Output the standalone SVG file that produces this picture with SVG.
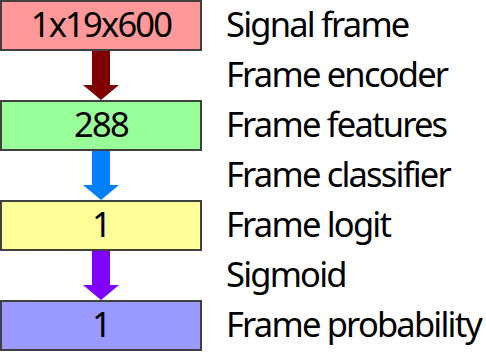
<svg xmlns="http://www.w3.org/2000/svg" width="486" height="352" viewBox="0 0 486 352">
<style>
text{font-family:"Noto Sans","Open Sans",sans-serif;font-size:34.5px;letter-spacing:-1.8px;fill:#000}
.box{stroke:#404040;stroke-width:2}
.c{text-anchor:middle}
</style>
<rect width="486" height="352" fill="#fff"/>
<g id="connectors">
<path d="M92,50 V85 H83 L101,100 L119,85 H110 V50 Z" fill="#800000"/>
<path d="M92,150 V185 H83 L101,200 L119,185 H110 V150 Z" fill="#0080ff"/>
<path d="M92,250 V285 H83 L101,300 L119,285 H110 V250 Z" fill="#8000ff"/>
</g>
<g id="n1"><rect class="box" x="1" y="1" width="200" height="49" fill="#ff9999"/><text class="c" x="101" y="37">1x19x600</text></g>
<g id="n2"><rect class="box" x="1" y="101" width="200" height="49" fill="#99ff99"/><text class="c" x="101" y="137">288</text></g>
<g id="n3"><rect class="box" x="1" y="201" width="200" height="49" fill="#ffff99"/><text class="c" x="101" y="237">1</text></g>
<g id="n4"><rect class="box" x="1" y="301" width="200" height="49" fill="#9999ff"/><text class="c" x="101" y="337">1</text></g>
<g id="labels">
<text x="226" y="37">Signal frame</text>
<text x="226" y="87">Frame encoder</text>
<text x="226" y="137">Frame features</text>
<text x="226" y="187">Frame classifier</text>
<text x="226" y="237">Frame logit</text>
<text x="226" y="287">Sigmoid</text>
<text x="226" y="337">Frame probability</text>
</g>
</svg>
